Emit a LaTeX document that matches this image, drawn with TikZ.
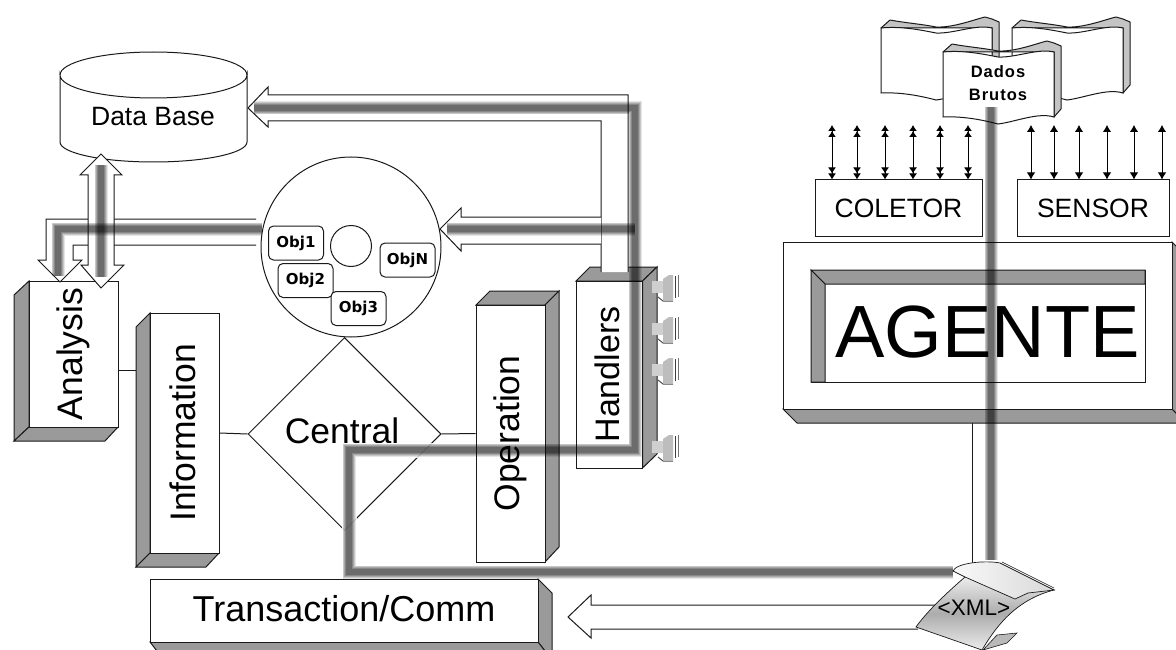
\documentclass[tikz,border=0pt]{standalone}
\usepackage{fontspec}
\setmainfont{Liberation Sans}
\newfontfamily\objfont{DejaVu Sans}
\newfontfamily\dadosfont[LetterSpace=6]{Liberation Sans}
\usetikzlibrary{shapes.geometric,arrows.meta}
\definecolor{facegray}{HTML}{9A9A9A}
\definecolor{inkc}{HTML}{1A1A1A}
\definecolor{bookgray}{HTML}{C4C4C4}
\definecolor{plugl}{HTML}{CFCFCF}
\definecolor{plugm}{HTML}{BDBDBD}
\tikzset{
  ln/.style={draw=inkc,line width=1pt},
  face/.style={ln,fill=facegray},
  box/.style={ln,fill=white,inner sep=0pt,align=center},
  big/.style={font=\fontsize{35.5}{38}\selectfont},
  mid/.style={font=\fontsize{26.5}{30}\selectfont},
  obj/.style={ln,fill=white,rounded corners=5pt,inner sep=0pt,minimum width=55pt,minimum height=34pt,font=\objfont\bfseries\fontsize{15}{17}\selectfont},
  blockarrow/.style={ln,fill=white},
  dbl/.style={draw=black,line width=1pt,{Latex[length=6pt,width=8pt]Latex[length=6pt,width=8pt]}-{Latex[length=6pt,width=8pt]Latex[length=6pt,width=8pt]}},
  sgl/.style={draw=black,line width=1pt,{Latex[length=7pt,width=8.5pt]}-{Latex[length=7pt,width=8.5pt]}},
  halo/.style={draw=white,opacity=0.85,line width=15pt,line join=miter},
  glowa/.style={draw=black,opacity=0.10,line width=13pt,line join=miter},
  glowb/.style={draw=black,opacity=0.13,line width=11.5pt,line join=miter},
  glowc/.style={draw=black,opacity=0.16,line width=10pt,line join=miter},
  glowd/.style={draw=black,opacity=0.18,line width=8pt,line join=miter},
  glowe/.style={draw=black,opacity=0.20,line width=6pt,line join=miter},
}
\newcommand{\halopath}[1]{\draw[halo] #1;}
\newcommand{\glowpath}[1]{%
  \draw[glowa] #1; \draw[glowb] #1; \draw[glowc] #1; \draw[glowd] #1; \draw[glowe] #1;}
\newcommand{\bookshape}[2]{%
  \begin{scope}[shift={(#1,#2)}]
    \draw[ln,fill=bookgray,line join=round] (0,0) -- (9,-8) .. controls (25,-5) and (40,-4) .. (55,-1) .. controls (72,0) and (95,-9) .. (104,-11) -- (111,-9) -- (118,-6) -- (118,57) -- (111,65) -- (111,0) -- cycle;
    \draw[ln,fill=white] (0,0) .. controls (20,-2) and (40,2) .. (55,5) .. controls (72,6) and (95,-4) .. (111,0) -- (111,65) .. controls (95,60) and (72,70) .. (55,72) .. controls (40,68) and (20,64) .. (0,65) -- cycle;
  \end{scope}}
\newcommand{\plugshape}[1]{%
  \begin{scope}[shift={(0,#1)}]
    \fill[plugm] (663,279) -- (669,275) -- (673,275) -- (673,300) -- (663,300) -- cycle;
    \fill[plugl] (652,281) -- (663,281) -- (663,293) -- (652,293) -- cycle;
    \draw[black!70,line width=1pt] (658,297) -- (663,301) -- (673,301);
    \draw[black!75,line width=0.9pt] (675,276) -- (675,298);
    \draw[black!55,line width=0.7pt] (678,275) -- (678,297);
  \end{scope}}
\begin{document}
\begin{tikzpicture}[x=1pt,y=-1pt]
\useasboundingbox (0,0) rectangle (1176,650);
\clip (0,0) rectangle (1176,650);
\fill[white] (0,0) rectangle (1176,650);

% Data base
\draw[ln,fill=white] (60,75) arc[start angle=180,end angle=0,x radius=93.5,y radius=23] -- (247,142) arc[start angle=0,end angle=180,x radius=93.5,y radius=20] -- cycle;
\draw[ln] (60,75) arc[start angle=180,end angle=360,x radius=93.5,y radius=23];
\node[inner sep=0pt,mid] (db) at (153,117) {Data Base};

% Central circle
\node[circle,ln,fill=white,minimum size=180pt,inner sep=0pt] (objs) at (351,247) {};
\node[circle,ln,minimum size=41pt,inner sep=0pt] (hub) at (351,246) {};
\node[obj] (o1) at (296,243) {Obj1};
\node[obj] (o2) at (305.5,280.5) {Obj2};
\node[obj] (o3) at (358.5,308.5) {Obj3};
\node[obj] (oN) at (407.5,260) {ObjN};

% Central
\node[diamond,ln,fill=none,inner sep=0pt,minimum width=193pt,minimum height=193pt] (central) at (344.5,434) {};
\node[big,inner sep=0pt] (centrallabel) at (342,431) {Central};

% Analysis
\draw[face] (14,295) -- (29,281) -- (29,427) -- (14,441) -- cycle;
\draw[face] (29,427) -- (118,427) -- (105,441) -- (14,441) -- cycle;
\node[box,big,minimum width=89pt,minimum height=146pt] (analysis) at (73.5,354) {\rotatebox{90}{\raisebox{1pt}{Analysis}}};

% Information
\draw[face] (136,327) -- (150,313) -- (150,553) -- (136,567) -- cycle;
\draw[face] (150,553) -- (219,553) -- (206,567) -- (136,567) -- cycle;
\node[box,big,minimum width=69pt,minimum height=240pt] (information) at (184.5,433) {\rotatebox{90}{\raisebox{4pt}{Information}}};

% Operation
\draw[face] (476,305) -- (490,291) -- (559,291) -- (545,305) -- cycle;
\draw[face] (545,305) -- (559,291) -- (559,547) -- (545,562) -- cycle;
\node[box,big,minimum width=69pt,minimum height=257pt] (operation) at (510.5,433.5) {\rotatebox{90}{\raisebox{-3pt}{Operation}}};

% Handlers
\draw[face] (576,281) -- (590,267) -- (657,267) -- (642.5,281) -- cycle;
\draw[face] (642.5,281) -- (657,267) -- (657,454) -- (642.5,468) -- cycle;
\node[box,font=\fontsize{34}{36}\selectfont,minimum width=66.5pt,minimum height=187pt] (handlers) at (609.25,374.5) {\rotatebox{90}{\raisebox{5pt}{Handlers}}};
\plugshape{0}\plugshape{42}\plugshape{83}\plugshape{160}

% Transaction
\draw[face] (538,579) -- (552,593) -- (552,660) -- (538,642) -- cycle;
\draw[face] (150,642) -- (538,642) -- (552,660) -- (164,660) -- cycle;
\node[box,font=\fontsize{36}{38}\selectfont,minimum width=388pt,minimum height=63pt] (trans) at (344,610.5) {\raisebox{5pt}{Transaction/Comm}};

% Thin connectors
\coordinate (aiy) at (0,370);
\draw[ln] (analysis.east |- aiy) -- (136,370) coordinate (infoside);
\draw[ln] (information.east) -- (central.west);
\draw[ln] (central.east) -- (operation.west);

% Block arrows
\draw[blockarrow] (628,272) coordinate (hA) -- (628,95) -- (268,95) -- (268,87) -- (248,108) coordinate (dbtip) -- (268,127) -- (268,121) -- (601,121) -- (601,272) coordinate (hB);
\draw[blockarrow] (601,217) -- (461,217) -- (461,208) -- (440,229) coordinate (objtip) -- (461,251) -- (461,244) -- (601,244);
\draw[blockarrow] (256,219) -- (46,219) -- (46,260) -- (38,260) -- (60,282) coordinate (antip) -- (82,260) -- (73,260) -- (73,245) -- (256,245);
\draw[blockarrow] (101,154) -- (122,175) -- (114,175) -- (114,265) -- (124,265) -- (101,288) -- (81,265) -- (88,265) -- (88,175) -- (80,175) -- cycle;
\draw[blockarrow] (936,605) -- (591,605) -- (591,595) -- (568,617) coordinate (ttip) -- (591,638) -- (591,629) -- (918,629);

% Agent side
\bookshape{881}{28}
\bookshape{1012}{28}
\bookshape{943}{52}
\node[inner sep=0pt,align=center,font=\dadosfont\bfseries\fontsize{16.5}{23}\selectfont] (dados) at (998,83) {Dados\\Brutos};

\node[box,mid,minimum width=167pt,minimum height=56pt] (coletor) at (898.5,208) {COLETOR};
\node[box,mid,minimum width=152pt,minimum height=56pt] (sensor) at (1093,208) {SENSOR};
\foreach \i/\x in {1/832,2/857,3/885,4/913,5/940,6/968}{
  \coordinate (ca\i) at (\x,125);
  \draw[dbl] (ca\i) -- (ca\i |- coletor.north);
}
\foreach \i/\x in {1/1031,2/1054,3/1079,4/1107,5/1134,6/1162}{
  \coordinate (sa\i) at (\x,125);
  \draw[sgl] (sa\i) -- (sa\i |- sensor.north);
}

% Agent body
\draw[face] (783,409) -- (1172,409) -- (1186,423) -- (797,423) -- cycle;
\draw[face] (1172,242) -- (1186,256) -- (1186,423) -- (1172,409) -- cycle;
\node[ln,fill=white,minimum width=389pt,minimum height=167pt,inner sep=0pt] (agentbody) at (977.5,325.5) {};
\node[ln,fill=white,minimum width=334pt,minimum height=112pt,inner sep=0pt] (agentframe) at (978,326) {};
\draw[face] (811,270) -- (1145,270) -- (1145,284) -- (825,284) -- cycle;
\draw[face] (811,270) -- (825,284) -- (825,382) -- (811,382) -- cycle;
\node[inner sep=0pt,font=\fontsize{74}{78}\selectfont,anchor=base] (agente) at (987.5,357) {AGENTE};

% Link to the XML sheet
\coordinate (xmlt) at (972,423);
\draw[ln] (xmlt) -- (972,564) coordinate (xmlb);

% Glow lines
\coordinate (gDB) at (254,108);
\coordinate (gC1) at (635,108);
\coordinate (gC2) at (635,450);
\coordinate (gC3) at (349,450);
\coordinate (gC4) at (349,572);
\coordinate (gXL) at (953,572);
\coordinate (gBr) at (635,229);
\coordinate (gOb) at (447,229);
\coordinate (gA1) at (262,229);
\coordinate (gA2) at (58,229);
\coordinate (gA3) at (58,276);
\coordinate (gD1) at (101,165);
\coordinate (gD2) at (101,277);
\coordinate (gB1) at (991,107);
\coordinate (gB2) at (991,560);
\coordinate (hE) at (446,450);
\coordinate (hS) at (349,536);
\halopath{(hE) -- (gC3) -- (hS)}
\glowpath{(gDB) -- (gC1) -- (gC2) -- (gC3) -- (gC4) -- (gXL)}
\glowpath{(gBr) -- (gOb)}
\glowpath{(gA1) -- (gA2) -- (gA3)}
\glowpath{(gD1) -- (gD2)}
\glowpath{(gB1) -- (gB2)}

% XML sheet
\draw[ln,line width=0.7pt,left color=gray!15,right color=gray!15,middle color=gray!65,shading angle=0] (965,577) .. controls (950,590) and (928,610) .. (916,627) -- (982,650) .. controls (995,628) and (1015,600) .. (1054,590) -- cycle;
\draw[ln,line width=0.7pt,left color=gray!5,right color=gray!30] (953,571) .. controls (956,563) and (985,560) .. (1000,563) -- (1054,590) -- (1037,592) -- (1028,593) -- (1015,599) -- (965,577) -- cycle;
\draw[ln,line width=0.6pt] (1002,562) -- (1054,588);
\draw[ln,line width=0.6pt,fill=gray!55] (997,635) -- (1017,633) -- (1007,643) -- (983,650) -- cycle;
\node[inner sep=0pt,font=\fontsize{22.5}{24}\selectfont] (xml) at (974,608) {<XML>};
\end{tikzpicture}
\end{document}
